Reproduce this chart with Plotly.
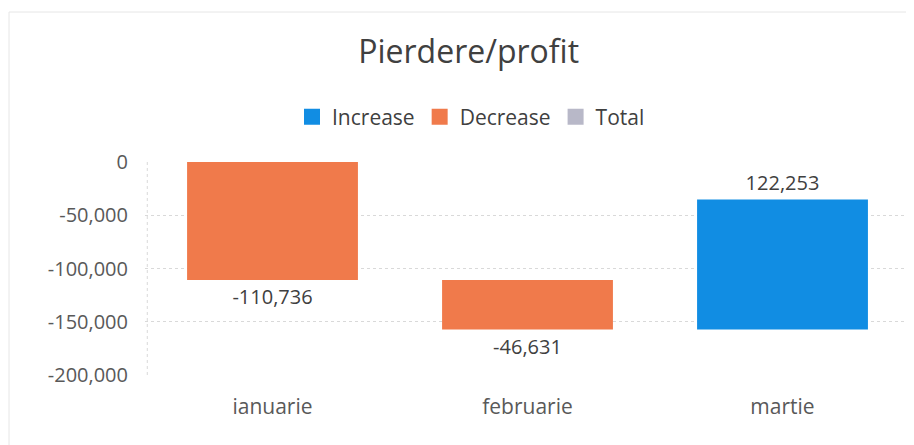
import plotly.graph_objects as go

categories = ["ianuarie", "februarie", "martie"]
deltas = [-110736, -46631, 122253]
legend_names = ["Increase", "Decrease", "Total"]
legend_colors = ["#118de3", "#f07a4b", "#b8b8c8"]
y_ticks = [0, -50000, -100000, -150000, -200000]
y_tick_labels = ["0", "-50,000", "-100,000", "-150,000", "-200,000"]

FONT = "Open Sans"
L, R, T, B = 137, 12, 154, 78
PW, PH = 914 - L - R, 445 - T - B

fig = go.Figure()
fig.add_trace(go.Waterfall(
    x=categories,
    y=deltas,
    measure=["relative"] * len(deltas),
    text=[f"{v:,}" for v in deltas],
    textposition="outside",
    textfont=dict(family=FONT, size=20, color="#404040"),
    increasing=dict(marker=dict(color=legend_colors[0])),
    decreasing=dict(marker=dict(color=legend_colors[1])),
    totals=dict(marker=dict(color=legend_colors[2])),
    connector=dict(visible=False),
    showlegend=False,
    cliponaxis=False,
    hoverinfo="x+y",
))

for name, col in zip(legend_names, legend_colors):
    fig.add_trace(go.Scatter(
        x=[None], y=[None], mode="markers", name=name,
        marker=dict(symbol="square", size=18, color=col),
    ))

fig.update_layout(
    width=914, height=445,
    margin=dict(l=L, r=R, t=T, b=B),
    paper_bgcolor="white", plot_bgcolor="white",
    waterfallgap=0.33,
    title=dict(text="Pierdere/profit", x=0.504, xanchor="center",
               y=1 - 44 / 445, yanchor="middle", yref="container",
               font=dict(family=FONT, size=32, color="#404040")),
    legend=dict(orientation="h", x=(463 - L) / PW, xanchor="center",
                y=1 + (T - 109) / PH, yanchor="middle",
                font=dict(family=FONT, size=21, color="#404040"),
                itemsizing="trace", traceorder="normal", itemwidth=30),
    showlegend=True,
    xaxis=dict(type="category", showgrid=False, zeroline=False, showline=False,
               ticks="outside", ticklen=13, tickcolor="rgba(0,0,0,0)",
               tickfont=dict(family=FONT, size=21, color="#595959")),
    yaxis=dict(range=[-200000, 0], tickvals=y_ticks, ticktext=y_tick_labels,
               showgrid=True, gridcolor="#d9d9d9", griddash="dot", gridwidth=1,
               zeroline=False, showline=False,
               ticks="outside", ticklen=12, tickcolor="rgba(0,0,0,0)",
               tickfont=dict(family=FONT, size=20, color="#595959")),
    shapes=[
        dict(type="line", xref="paper", yref="paper", x0=0.003, x1=0.003, y0=0, y1=1,
             line=dict(color="#d9d9d9", width=1, dash="dot"), layer="below"),
        dict(type="rect", xref="paper", yref="paper",
             x0=(1 - L) / PW, x1=(912 - L) / PW,
             y0=-(443 - (T + PH)) / PH, y1=1 + (T - 4) / PH,
             line=dict(color="#e6e6e6", width=1), layer="below"),
    ],
)

fig.write_html("out.html")
